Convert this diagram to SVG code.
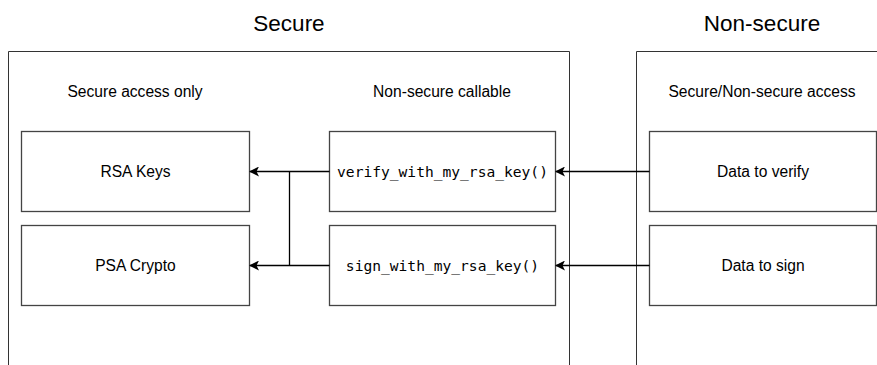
<svg xmlns="http://www.w3.org/2000/svg" width="877" height="365" viewBox="0 0 877 365">
<defs>
<marker id="ah" viewBox="0 0 10 10" refX="9" refY="5" markerWidth="10" markerHeight="10" markerUnits="userSpaceOnUse" orient="auto">
<path d="M0,0 L10,5 L0,10 L2.5,5 Z" fill="#000"/>
</marker>
</defs>
<style>
.cont{fill:none;stroke:#333;stroke-width:1}
.box{fill:#fff;stroke:#444;stroke-width:1.3}
.t{font-family:"Liberation Sans",Arial,sans-serif;font-size:15.6px;fill:#000;text-anchor:middle;dominant-baseline:central}
.title{font-family:"Liberation Sans",Arial,sans-serif;font-size:22.5px;fill:#000;text-anchor:middle;dominant-baseline:central}
.m{font-family:"DejaVu Sans Mono","Liberation Mono",monospace;font-size:14.6px;fill:#000;text-anchor:middle;dominant-baseline:central}
.c{fill:none;stroke:#000;stroke-width:1.3}
</style>
<rect width="877" height="365" fill="#fff"/>
<g id="secure">
<path class="cont" d="M8.5,366 V51.5 H569.5 V366"/>
<text class="title" x="289" y="23">Secure</text>
<text class="t" x="135" y="91">Secure access only</text>
<text class="t" x="442" y="91">Non-secure callable</text>
</g>
<g id="nonsecure">
<path class="cont" d="M636.5,366 V51.5 H878"/>
<text class="title" x="762" y="23">Non-secure</text>
<text class="t" x="762" y="91">Secure/Non-secure access</text>
</g>
<g id="rsa-keys">
<rect class="box" x="21.5" y="131.5" width="228" height="80"/>
<text class="t" x="135.5" y="171.5">RSA Keys</text>
</g>
<g id="psa-crypto">
<rect class="box" x="21.5" y="225.5" width="228" height="80"/>
<text class="t" x="135.5" y="265.5">PSA Crypto</text>
</g>
<g id="verify">
<rect class="box" x="329.5" y="131.5" width="226" height="80"/>
<text class="m" x="442.5" y="171.5">verify_with_my_rsa_key()</text>
</g>
<g id="sign">
<rect class="box" x="329.5" y="225.5" width="226" height="80"/>
<text class="m" x="442.5" y="265.5">sign_with_my_rsa_key()</text>
</g>
<g id="data-verify">
<rect class="box" x="649.5" y="131.5" width="227" height="80"/>
<text class="t" x="763" y="171.5">Data to verify</text>
</g>
<g id="data-sign">
<rect class="box" x="649.5" y="225.5" width="227" height="80"/>
<text class="t" x="763" y="265.5">Data to sign</text>
</g>
<g id="connectors">
<path class="c" d="M649.5,171.5 H556" marker-end="url(#ah)"/>
<path class="c" d="M649.5,265.5 H556" marker-end="url(#ah)"/>
<path class="c" d="M329.5,171.5 H250" marker-end="url(#ah)"/>
<path class="c" d="M329.5,265.5 H250" marker-end="url(#ah)"/>
<path class="c" d="M289.5,171.5 V265.5"/>
</g>
</svg>
